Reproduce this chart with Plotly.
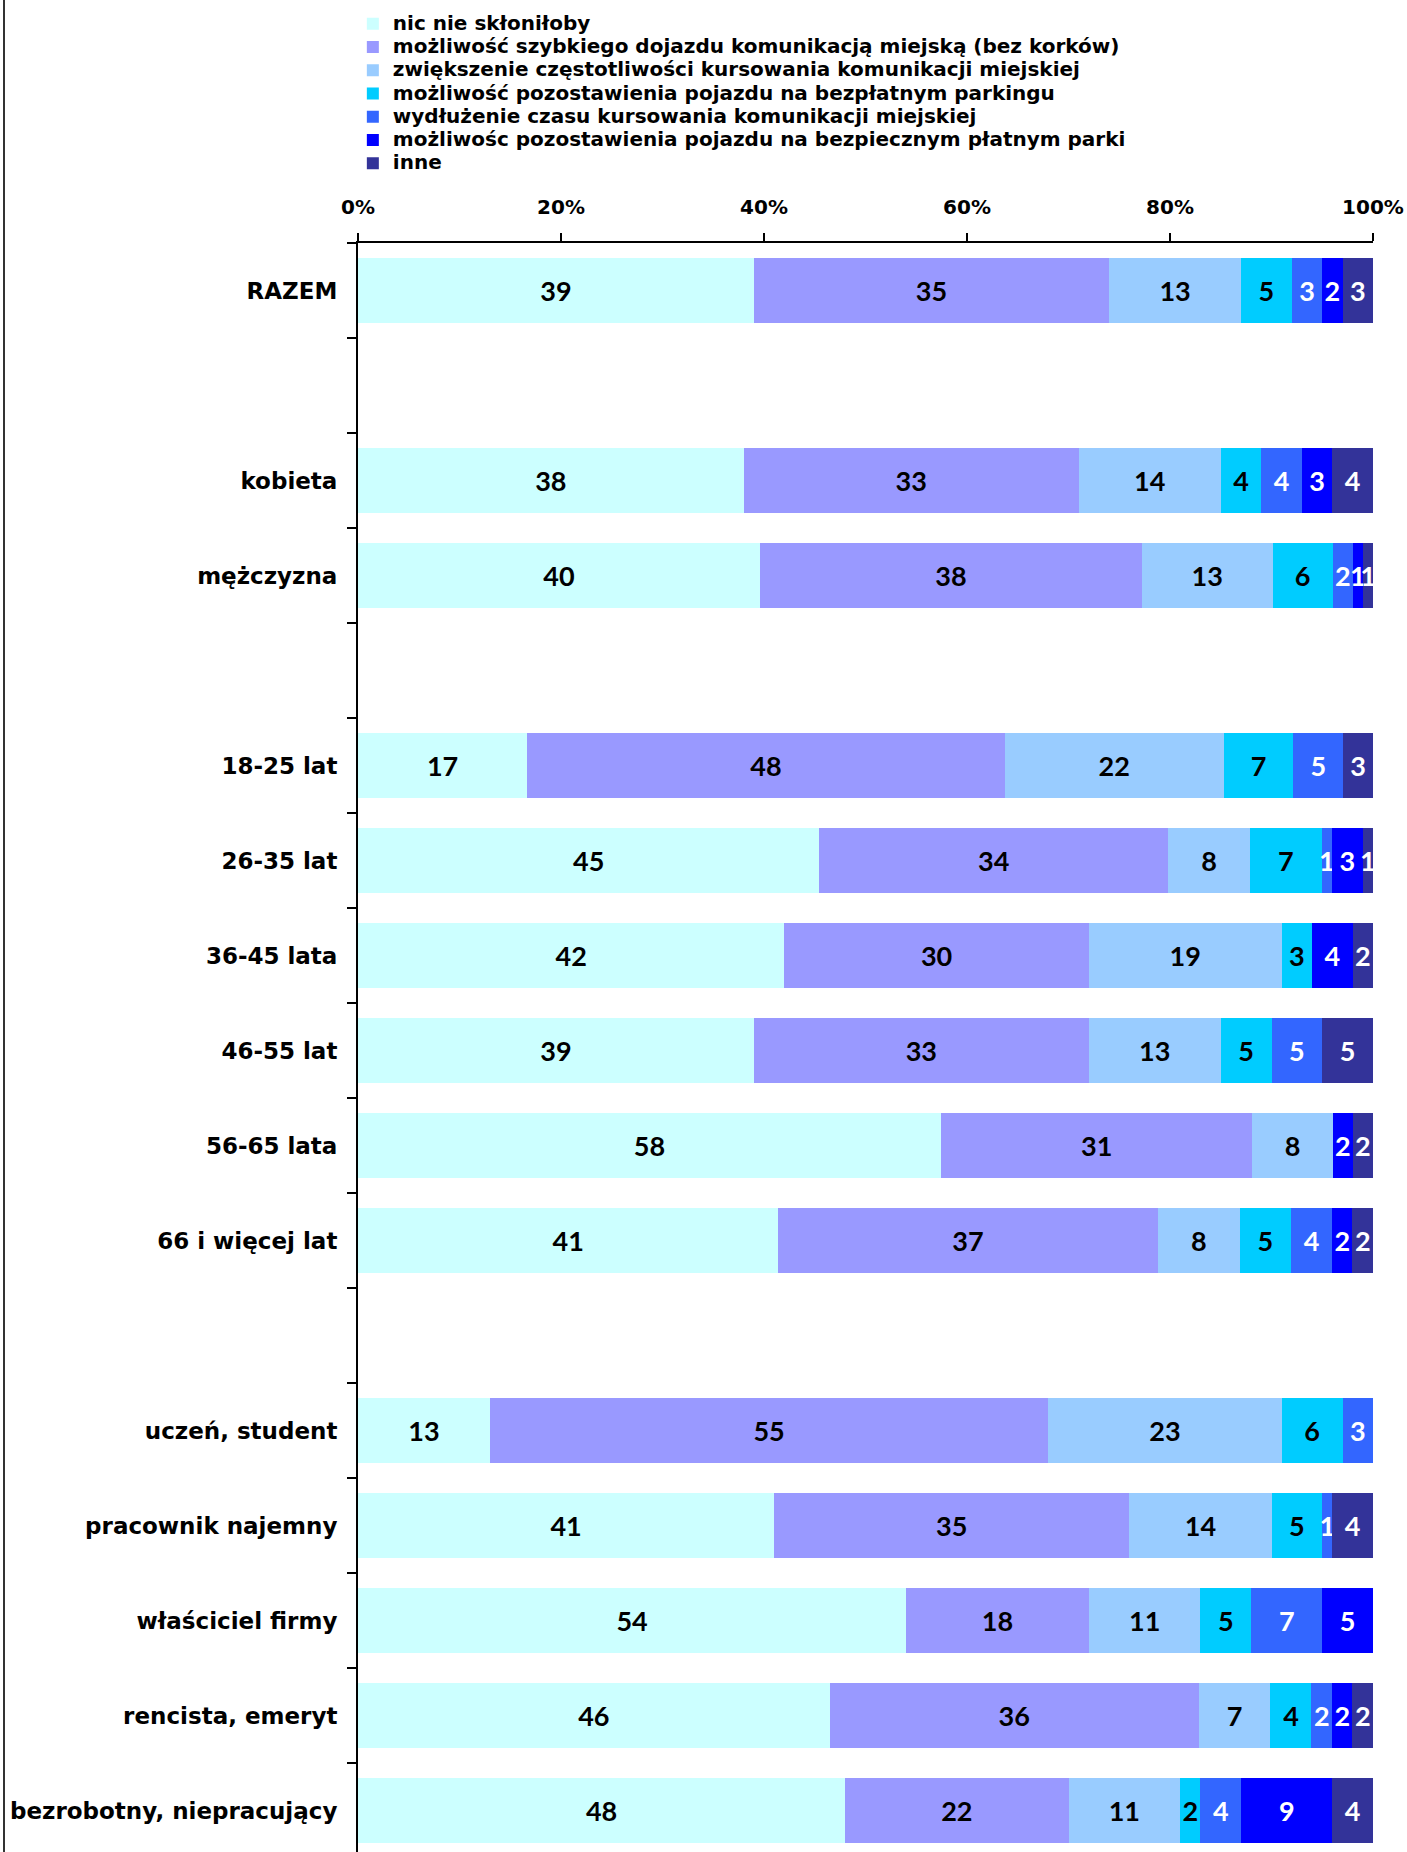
import plotly.graph_objects as go

categories = ["RAZEM", "kobieta", "mężczyzna", "18-25 lat", "26-35 lat", "36-45 lata",
              "46-55 lat", "56-65 lata", "66 i więcej lat", "uczeń, student",
              "pracownik najemny", "właściciel firmy", "rencista, emeryt",
              "bezrobotny, niepracujący"]

axis_order = ["RAZEM", " ", "kobieta", "mężczyzna", "  ", "18-25 lat", "26-35 lat",
              "36-45 lata", "46-55 lat", "56-65 lata", "66 i więcej lat", "   ",
              "uczeń, student", "pracownik najemny", "właściciel firmy",
              "rencista, emeryt", "bezrobotny, niepracujący"]

series_names = [
    "nic nie skłoniłoby",
    "możliwość szybkiego dojazdu komunikacją miejską (bez korków)",
    "zwiększenie częstotliwości kursowania komunikacji miejskiej",
    "możliwość pozostawienia pojazdu na bezpłatnym parkingu",
    "wydłużenie czasu kursowania komunikacji miejskiej",
    "możliwośc pozostawienia pojazdu na bezpiecznym płatnym parki",
    "inne",
]

nic = [39, 38, 40, 17, 45, 42, 39, 58, 41, 13, 41, 54, 46, 48]
szybki_dojazd = [35, 33, 38, 48, 34, 30, 33, 31, 37, 55, 35, 18, 36, 22]
czestotliwosc = [13, 14, 13, 22, 8, 19, 13, 8, 8, 23, 14, 11, 7, 11]
bezplatny_parking = [5, 4, 6, 7, 7, 3, 5, 0, 5, 6, 5, 5, 4, 2]
wydluzenie = [3, 4, 2, 5, 1, 0, 5, 0, 4, 3, 1, 7, 2, 4]
platny_parking = [2, 3, 1, 0, 3, 4, 0, 2, 2, 0, 0, 5, 2, 9]
inne = [3, 4, 1, 3, 1, 2, 5, 2, 2, 0, 4, 0, 2, 4]

series_values = [nic, szybki_dojazd, czestotliwosc, bezplatny_parking,
                 wydluzenie, platny_parking, inne]

x_tick_values = [0, 20, 40, 60, 80, 100]
x_tick_labels = ["0%", "20%", "40%", "60%", "80%", "100%"]

colors = ["#CCFFFF", "#9999FF", "#99CCFF", "#00CCFF", "#3366FF", "#0000FF", "#333399"]
text_colors = ["black", "black", "black", "black", "white", "white", "white"]

NUM_FONT = "Lato"
LBL_FONT = "DejaVu Sans"

fig = go.Figure()
for name, vals, col, tcol in zip(series_names, series_values, colors, text_colors):
    fig.add_trace(go.Bar(
        y=categories,
        x=vals,
        name=f"<span style='font-size:20px'>{name}</span>",
        orientation="h",
        marker=dict(color=col, line=dict(width=0)),
        text=[str(v) if v else "" for v in vals],
        textposition="inside",
        insidetextanchor="middle",
        textangle=0,
        textfont=dict(family=NUM_FONT, size=27, color=tcol, weight="bold"),
        hoverinfo="skip",
    ))

W, H = 1407, 1852
ml, mr, mt, mb = 358, 34, 243, 0
plot_w = W - ml - mr
plot_h = H - mt - mb
slot = 95.0
n_visible = plot_h / slot

fig.update_layout(
    width=W, height=H,
    barmode="stack",
    barnorm="percent",
    bargap=0.316,
    margin=dict(l=ml, r=mr, t=mt, b=mb, pad=0),
    plot_bgcolor="white",
    paper_bgcolor="white",
    uniformtext=dict(mode="show", minsize=27),
    font=dict(family=LBL_FONT, color="black", weight="bold"),
    showlegend=True,
    legend=dict(
        x=(363 - ml) / plot_w - 0.01,
        y=1 + (243 - 7) / plot_h,
        xanchor="left", yanchor="top",
        traceorder="normal",
        font=dict(family=LBL_FONT, size=15.6, color="black", weight="bold"),
        bgcolor="rgba(0,0,0,0)",
        itemwidth=30,
    ),
    xaxis=dict(
        side="top",
        range=[0, 100],
        tickmode="array",
        tickvals=x_tick_values,
        ticktext=x_tick_labels,
        ticks="outside",
        ticklen=8,
        tickwidth=2,
        tickcolor="black",
        showline=True,
        linecolor="black",
        linewidth=2,
        showgrid=False,
        zeroline=False,
        tickfont=dict(family=LBL_FONT, size=20, color="black", weight="bold"),
        ticklabelstandoff=11,
    ),
    yaxis=dict(
        type="category",
        categoryorder="array",
        categoryarray=axis_order,
        range=[-0.5 + n_visible, -0.5],
        tickson="boundaries",
        ticks="outside",
        ticklen=9,
        tickwidth=2,
        tickcolor="black",
        showline=True,
        linecolor="black",
        linewidth=2,
        showgrid=False,
        zeroline=False,
        tickfont=dict(family=LBL_FONT, size=23, color="black", weight="bold"),
        ticklabelstandoff=14,
    ),
)

# chart-area left border
fig.add_shape(
    type="line", xref="paper", yref="paper",
    x0=(4 - ml) / plot_w, x1=(4 - ml) / plot_w,
    y0=-0.01, y1=1 + mt / plot_h + 0.01,
    line=dict(color="#333333", width=2),
)

fig.write_html("out.html", config={"displayModeBar": False},
               post_script="document.body.style.margin='0';")
